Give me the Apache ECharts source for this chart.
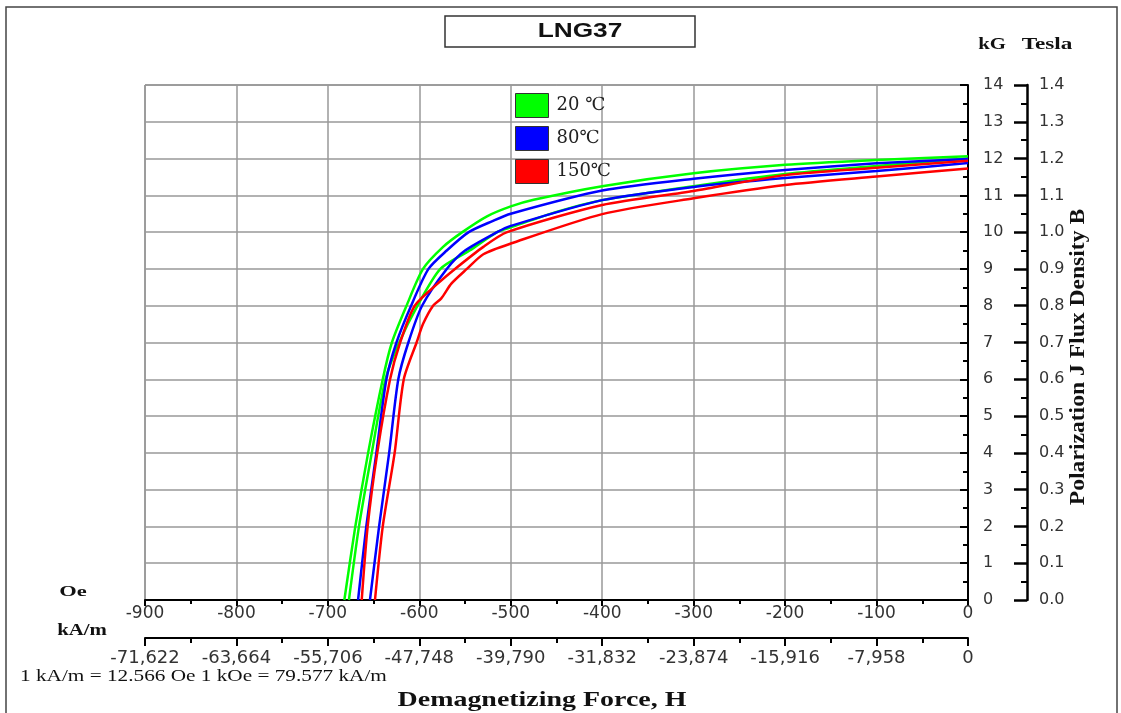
<!DOCTYPE html>
<html>
<head>
<meta charset="utf-8">
<title>LNG37</title>
<script src="https://cdn.jsdelivr.net/npm/echarts@6/dist/echarts.min.js"></script>
<style>
  html, body { margin: 0; padding: 0; background: #fff; }
  #chart { width: 1121px; height: 713px; }
</style>
</head>
<body>
<div id="chart"></div>
<script>
// demagnetization curves, points are [H (Oe), B (kG)]
const t20Upper = [[-682, 0], [-670, 2], [-656, 4], [-640, 6], [-630, 7], [-614, 8], [-596, 9], [-574, 9.6], [-553, 10], [-526, 10.43], [-500, 10.7], [-475, 10.88], [-400, 11.25], [-300, 11.6], [-200, 11.83], [-100, 11.96], [0, 12.06]]
const t20Lower = [[-677, 0], [-666, 2], [-652, 4], [-637, 6], [-622, 7], [-602, 8], [-577, 9], [-545, 9.5], [-515, 10], [-500, 10.13], [-450, 10.55], [-400, 10.87], [-300, 11.25], [-200, 11.58], [-100, 11.8], [0, 12.0]]
const t80Upper = [[-667, 0], [-658, 2], [-647, 4], [-636, 6], [-625, 7], [-609, 8], [-590, 9], [-570, 9.5], [-546, 10], [-520, 10.3], [-500, 10.5], [-400, 11.13], [-300, 11.45], [-200, 11.69], [-100, 11.87], [0, 11.99]]
const t80Lower = [[-654, 0], [-644, 2], [-633, 4], [-623, 6], [-612, 7], [-597, 8], [-570, 9], [-550, 9.5], [-515, 10], [-500, 10.17], [-400, 10.87], [-300, 11.23], [-200, 11.47], [-100, 11.66], [0, 11.88]]
const t150Upper = [[-663, 0], [-656.5, 2], [-646, 4], [-632, 6], [-621, 7], [-605, 8], [-580, 8.6], [-561, 9], [-530, 9.6], [-504, 10], [-400, 10.74], [-300, 11.12], [-200, 11.55], [-100, 11.75], [0, 11.94]]
const t150Lower = [[-648.5, 0], [-640, 2], [-627, 4], [-617, 6], [-603, 7], [-596, 7.5], [-585, 8], [-576, 8.2], [-565, 8.6], [-548, 9], [-530, 9.4], [-500, 9.69], [-400, 10.49], [-300, 10.92], [-200, 11.28], [-100, 11.51], [0, 11.73]]

const legendNames = ['20 ℃', '80℃', '150℃']
const lineColors = ['#00ff00', '#0000ff', '#ff0000']

// tick labels of the second x axis and the Tesla axis
const kAmLabels = ['-71,622', '-63,664', '-55,706', '-47,748', '-39,790', '-31,832', '-23,874', '-15,916', '-7,958', '0']
const teslaLabels = ['0.0', '0.1', '0.2', '0.3', '0.4', '0.5', '0.6', '0.7', '0.8', '0.9', '1.0', '1.1', '1.2', '1.3', '1.4']

const sans = '"DejaVu Sans", Arial, sans-serif'
const serif = '"Liberation Serif", "Times New Roman", serif'

const chart = echarts.init(document.getElementById('chart'))

function makeLine(name, color, data) {
  return {
    name: name,
    type: 'line',
    data: data,
    showSymbol: false,
    symbol: 'none',
    smooth: 0.25,
    color: color,
    lineStyle: { color: color, width: 2.5 },
    xAxisIndex: 0,
    yAxisIndex: 0,
    z: 5,
  }
}

// stretched text, the source picture is wider than the fonts
function label(text, x, y, font, sx, align, rot) {
  return {
    type: 'text',
    x: x,
    y: y,
    scaleX: sx,
    rotation: rot || 0,
    style: { text: text, font: font, fill: '#111', align: align || 'center', verticalAlign: 'middle' },
  }
}

const option = {
  animation: false,
  backgroundColor: '#fff',
  grid: {
    left: 145,
    right: 153,
    top: 85,
    bottom: 113,
    show: true,
    borderColor: '#555',
    borderWidth: 1,
  },
  legend: {
    data: legendNames,
    orient: 'vertical',
    left: 510,
    top: 88,
    icon: 'rect',
    itemWidth: 33,
    itemHeight: 24,
    itemGap: 8,
    itemStyle: { borderColor: '#333', borderWidth: 1 },
    textStyle: { fontFamily: '"DejaVu Serif", serif', fontSize: 18, color: '#222', padding: [0, 0, 0, 3] },
    selectedMode: false,
  },
  xAxis: [
    {
      type: 'value',
      min: -900,
      max: 0,
      interval: 100,
      position: 'bottom',
      axisLine: { onZero: false, lineStyle: { color: '#000', width: 2 } },
      axisTick: { show: true, length: 6, lineStyle: { color: '#000', width: 2 } },
      minorTick: { show: true, splitNumber: 2, length: 4, lineStyle: { color: '#000', width: 2 } },
      axisLabel: { margin: 5, fontFamily: sans, fontSize: 17, color: '#333' },
      splitLine: { show: true, lineStyle: { color: '#999', width: 1.5 } },
    },
    {
      type: 'value',
      min: -900,
      max: 0,
      interval: 100,
      position: 'bottom',
      offset: 38,
      axisLine: { onZero: false, lineStyle: { color: '#000', width: 2 } },
      axisTick: { show: true, length: 8, lineStyle: { color: '#000', width: 2 } },
      minorTick: { show: true, splitNumber: 2, length: 5, lineStyle: { color: '#000', width: 2 } },
      axisLabel: {
        margin: 11,
        fontFamily: sans,
        fontSize: 18,
        color: '#333',
        formatter: (v) => kAmLabels[Math.round((v + 900) / 100)],
      },
      splitLine: { show: false },
    },
  ],
  yAxis: [
    {
      type: 'value',
      min: 0,
      max: 14,
      interval: 1,
      position: 'right',
      axisLine: { onZero: false, lineStyle: { color: '#000', width: 2 } },
      axisTick: { show: true, inside: true, length: 8, lineStyle: { color: '#000', width: 2 } },
      minorTick: { show: true, splitNumber: 2, length: 5, lineStyle: { color: '#000', width: 2 } },
      axisLabel: { margin: 15, fontFamily: sans, fontSize: 16, color: '#333' },
      splitLine: { show: true, lineStyle: { color: '#999', width: 1.5 } },
    },
    {
      type: 'value',
      min: 0,
      max: 14,
      interval: 1,
      position: 'right',
      offset: 59,
      axisLine: { onZero: false, lineStyle: { color: '#000', width: 2.5 } },
      axisTick: { show: true, inside: true, length: 13, lineStyle: { color: '#000', width: 2.5 } },
      minorTick: { show: true, splitNumber: 2, length: 6, lineStyle: { color: '#000', width: 2 } },
      axisLabel: {
        margin: 12,
        fontFamily: sans,
        fontSize: 16,
        color: '#333',
        formatter: (v) => teslaLabels[Math.round(v)],
      },
      splitLine: { show: false },
    },
  ],
  series: [
    makeLine(legendNames[0], lineColors[0], t20Upper),
    makeLine(legendNames[0], lineColors[0], t20Lower),
    makeLine(legendNames[1], lineColors[1], t80Upper),
    makeLine(legendNames[1], lineColors[1], t80Lower),
    makeLine(legendNames[2], lineColors[2], t150Upper),
    makeLine(legendNames[2], lineColors[2], t150Lower),
  ],
  graphic: [
    // outer frame
    { type: 'rect', shape: { x: 6, y: 7, width: 1111, height: 720 }, style: { fill: 'none', stroke: '#444', lineWidth: 1.5 }, silent: true },
    // title box
    { type: 'rect', shape: { x: 445, y: 16, width: 250, height: 31 }, style: { fill: '#fff', stroke: '#333', lineWidth: 1.5 }, silent: true },
    label('LNG37', 580, 31, 'bold 21px "Liberation Sans", Arial, sans-serif', 1.25),
    // unit labels
    label('kG', 992, 45, 'bold 16px ' + serif, 1.3),
    label('Tesla', 1047, 45, 'bold 16px ' + serif, 1.45),
    label('Oe', 73, 592, 'bold 15px ' + serif, 1.5),
    label('kA/m', 82, 631, 'bold 16px ' + serif, 1.3),
    label('1 kA/m = 12.566 Oe 1 kOe = 79.577 kA/m', 20, 677, '17px ' + serif, 1.25, 'left'),
    // axis titles
    label('Demagnetizing Force, H', 542, 700, 'bold 22px ' + serif, 1.27),
    label('Polarization J Flux Density B', 1079, 357, 'bold 20px ' + serif, 1.18, 'center', Math.PI / 2),
  ],
}

chart.setOption(option)
</script>
</body>
</html>
